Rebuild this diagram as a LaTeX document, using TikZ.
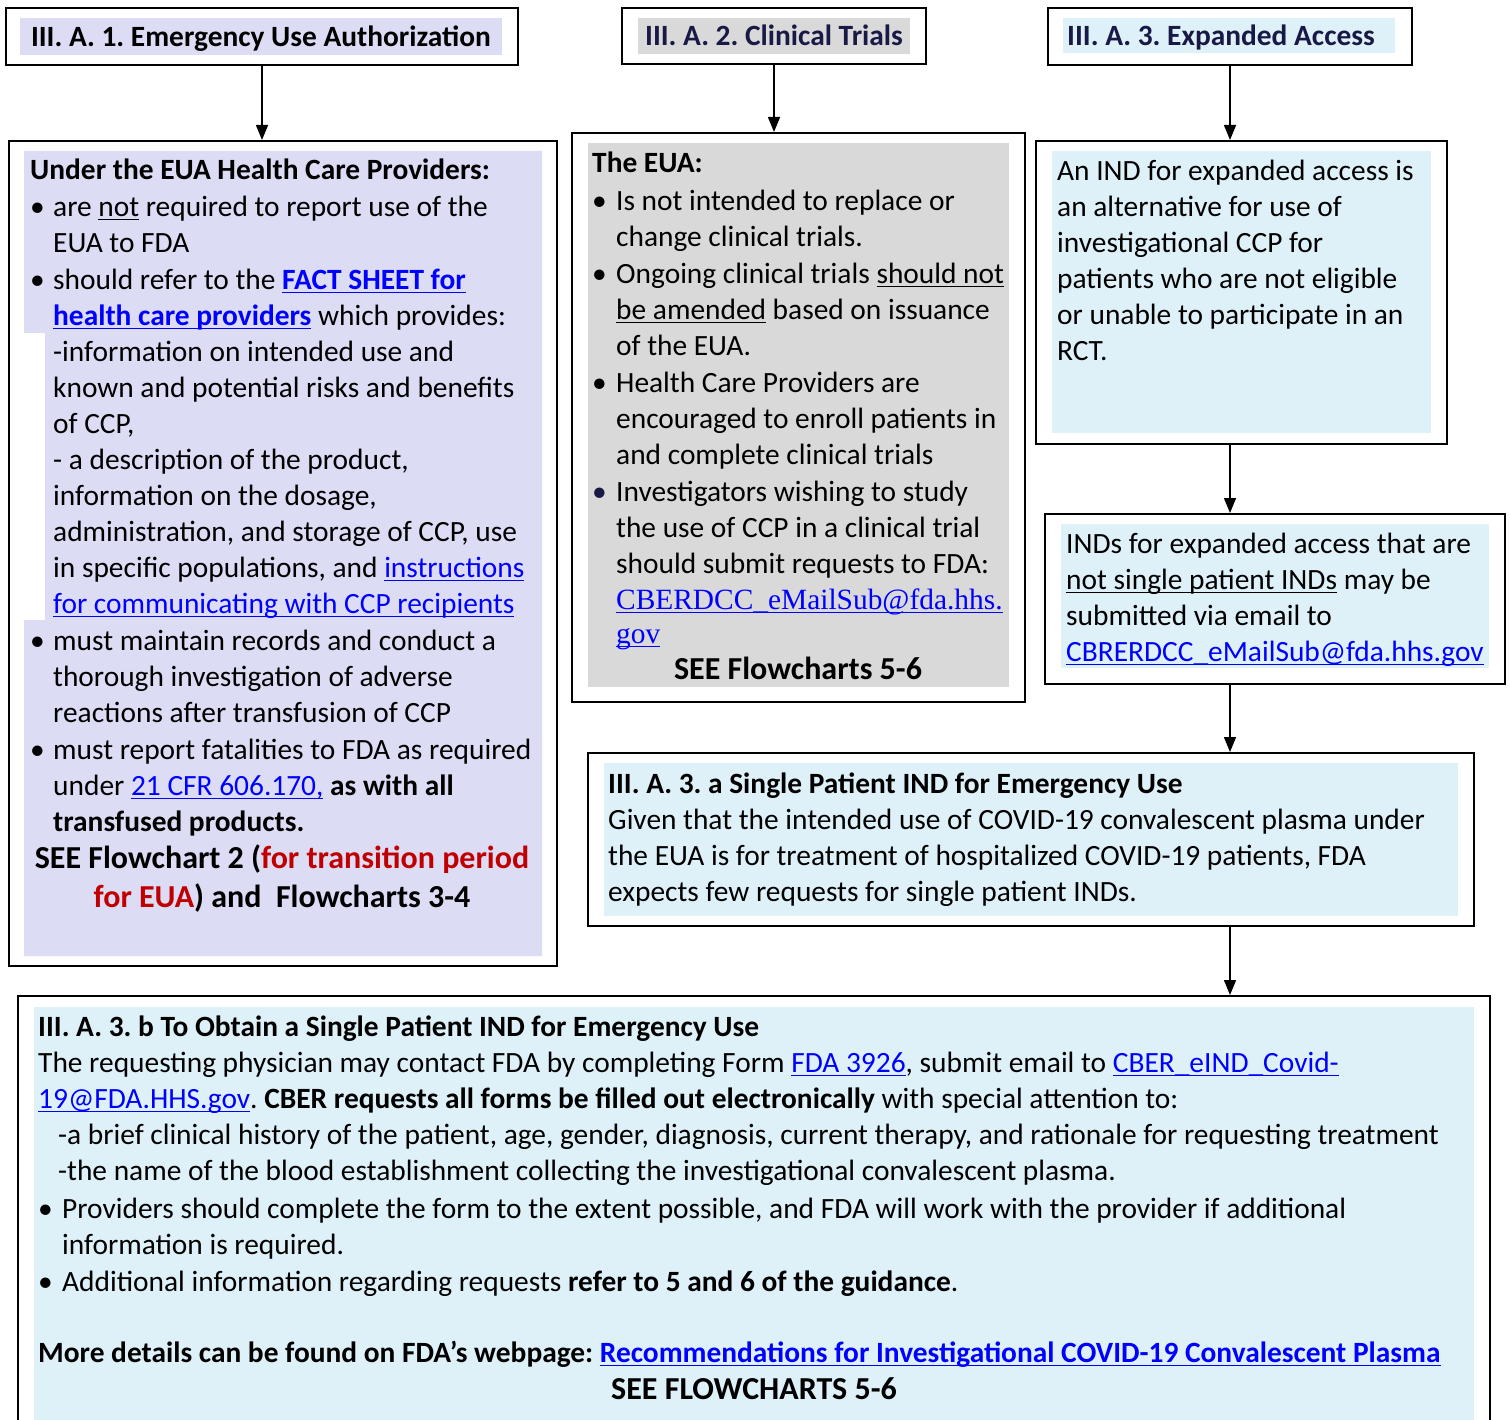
\documentclass[tikz,border=0pt]{standalone}
\usepackage{fontspec}
\setmainfont{Carlito}
\newfontfamily\serifmail{Liberation Serif}
\usetikzlibrary{
  arrows.meta,
  fit,
  positioning
}
\definecolor{eualav}{RGB}{220,220,245}
\definecolor{trialgray}{RGB}{217,217,217}
\definecolor{accessblue}{RGB}{222,241,249}
\definecolor{linkblue}{RGB}{0,0,255}
\definecolor{transred}{RGB}{192,0,0}
\definecolor{headnavy}{RGB}{25,25,70}
\newsavebox{\ulinebox}
\newcommand{\ulin}[1]{\sbox{\ulinebox}{#1}\rlap{\rule[-3.5pt]{\wd\ulinebox}{1.3pt}}\usebox{\ulinebox}}
\newcommand{\lnk}[1]{{\color{linkblue}\ulin{#1}}}
\newcommand{\bul}{\makebox[23pt][l]{\textbullet}}
\newcommand{\ind}{\hspace*{23pt}}
\frenchspacing
\tikzset{
  boxframe/.style={
    draw=black,
    line width=2pt,
    fill=white,
    inner sep=0pt
  },
  panel/.style={
    inner sep=0pt,
    draw=none
  },
  body/.style={
    anchor=north west,
    inner sep=0pt,
    align=left,
    font=\fontsize{29.4}{36}\selectfont
  },
  heading/.style={
    inner sep=0pt,
    font=\bfseries\fontsize{29.4}{34}\selectfont
  },
  titlebar/.style={
    heading,
    text height=23pt,
    text depth=3pt
  },
  seenote/.style={
    heading,
    font=\bfseries\fontsize{32}{39}\selectfont
  },
  arrow/.style={
    -{Triangle[length=15pt,width=12pt]},
    line width=1.5pt,
    draw=black
  }
}

\begin{document}
\frenchspacing
\begin{tikzpicture}[x=1pt, y=-1pt]
\useasboundingbox (0,0) rectangle (1510,1420);

% Section titles.
\node[boxframe, minimum width=512pt, minimum height=57pt] (euatitle) at (262,36.5) {};
\node[titlebar, fill=eualav, minimum width=482pt, minimum height=37pt] at (261,36.5)
  {III. A. 1. Emergency Use Authorization};
\node[boxframe, minimum width=304pt, minimum height=56pt] (trialtitle) at (774,36) {};
\node[titlebar, fill=trialgray, text=headnavy, minimum width=272pt, minimum height=36pt] at (774,36)
  {III. A. 2. Clinical Trials};
\node[boxframe, minimum width=364pt, minimum height=57pt] (accesstitle) at (1230,36.5) {};
\node[titlebar, fill=accessblue, text=headnavy, minimum width=332pt, minimum height=35pt] at (1229,35.5)
  {III. A. 3. Expanded Access\hspace*{16pt}};

% Content frames.
\node[boxframe, fit={(9,141) (557,966)}] (euabox) {};
\node[boxframe, fit={(572,133) (1025,702)}] (trialbox) {};
\node[boxframe, fit={(1036,141) (1447,444)}] (indbox) {};
\node[boxframe, fit={(1045,514) (1505,684)}] (indsbox) {};
\node[boxframe, fit={(588,753) (1474,926)}] (singlebox) {};
\node[boxframe, fit={(18,996) (1490,1424)}] (obtainbox) {};

% Coloured panels inside the frames.
\fill[eualav] (24,151) -- (542,151) -- (542,956) -- (24,956) -- (24,620)
  -- (45,620) -- (45,333) -- (24,333) -- cycle;
\node[panel, fill=trialgray, fit={(588,143) (1009,687)}] {};
\node[panel, fill=accessblue, fit={(1052,151) (1431,433)}] {};
\node[panel, fill=accessblue, fit={(1061,524) (1489,668)}] {};
\node[panel, fill=accessblue, fit={(604,763) (1458,916)}] {};
\node[panel, fill=accessblue, fit={(34,1007) (1474,1424)}] {};

% EUA text.
\node[body] (euatext) at (30,159) {%
  \textbf{Under the EUA Health Care Providers:}\\[1pt]
  \bul are \ulin{not} required to report use of the\\
  \ind EUA to FDA\\[1pt]
  \bul should refer to the \textbf{\lnk{FACT SHEET for}}\\
  \ind\textbf{\lnk{health care providers}} which provides:\\
  \ind -information on intended use and\\
  \ind known and potential risks and benefits\\
  \ind of CCP,\\
  \ind - a description of the product,\\
  \ind information on the dosage,\\
  \ind administration, and storage of CCP, use\\
  \ind in specific populations, and \lnk{instructions}\\
  \ind\lnk{for communicating with CCP recipients}\\[1pt]
  \bul must maintain records and conduct a\\
  \ind thorough investigation of adverse\\
  \ind reactions after transfusion of CCP\\[1pt]
  \bul must report fatalities to FDA as required\\
  \ind under \lnk{21 CFR 606.170,} \textbf{as with all}\\
  \ind\textbf{transfused products.}
};
\node[seenote, align=center] (euasee) at (282,879)
  {SEE Flowchart 2 (\textcolor{transred}{for transition period}\\
   \textcolor{transred}{for EUA}) and\ \ Flowcharts 3-4};

% Clinical trials text.
\node[body] (trialtext) at (592,152) {%
  \textbf{The EUA:}\\[2pt]
  \makebox[24pt][l]{\textbullet}Is not intended to replace or\\
  \hspace*{24pt}change clinical trials.\\[1pt]
  \makebox[24pt][l]{\textbullet}Ongoing clinical trials \ulin{should not}\\
  \hspace*{24pt}\ulin{be amended} based on issuance\\
  \hspace*{24pt}of the EUA.\\[1pt]
  \makebox[24pt][l]{\textbullet}Health Care Providers are\\
  \hspace*{24pt}encouraged to enroll patients in\\
  \hspace*{24pt}and complete clinical trials\\[1pt]
  \makebox[24pt][l]{\textcolor{headnavy}{\textbullet}}Investigators wishing to study\\
  \hspace*{24pt}the use of CCP in a clinical trial\\
  \hspace*{24pt}should submit requests to FDA:\\
  \hspace*{24pt}{\serifmail\lnk{CBERDCC\_eMailSub@fda.hhs.}}\\[-2pt]
  \hspace*{24pt}{\serifmail\lnk{gov}}
};
\node[seenote] (trialsee) at (798,668) {SEE Flowcharts 5-6};

% Expanded access text.
\node[body] (indtext) at (1057,160) {%
  An IND for expanded access is\\
  an alternative for use of\\
  investigational CCP for\\
  patients who are not eligible\\
  or unable to participate in an\\
  RCT.
};
\node[body] (indstext) at (1066,533) {%
  INDs for expanded access that are\\
  \ulin{not single patient INDs} may be\\
  submitted via email to\\
  \lnk{CBRERDCC\_eMailSub@fda.hhs.gov}
};

% Single patient IND.
\node[body] (singletext) at (608,773) {%
  \textbf{III. A. 3. a Single Patient IND for Emergency Use}\\
  Given that the intended use of COVID-19 convalescent plasma under\\
  the EUA is for treatment of hospitalized COVID-19 patients, FDA\\
  expects few requests for single patient INDs.
};
\node[body] (obtaintext) at (38,1016) {%
  \textbf{III. A. 3. b To Obtain a Single Patient IND for Emergency Use}\\
  The requesting physician may contact FDA by completing Form \lnk{FDA 3926}, submit email to \lnk{CBER\_eIND\_Covid-}\\
  \lnk{19@FDA.HHS.gov}. \textbf{CBER requests all forms be filled out electronically} with special attention to:\\
  \hspace*{20pt}-a brief clinical history of the patient, age, gender, diagnosis, current therapy, and rationale for requesting treatment\\
  \hspace*{20pt}-the name of the blood establishment collecting the investigational convalescent plasma.\\[2pt]
  \makebox[24pt][l]{\textbullet}Providers should complete the form to the extent possible, and FDA will work with the provider if additional\\
  \hspace*{24pt}information is required.\\[1pt]
  \makebox[24pt][l]{\textbullet}Additional information regarding requests \textbf{refer to 5 and 6 of the guidance}.\\[35pt]
  \textbf{More details can be found on FDA’s webpage: \lnk{Recommendations for Investigational COVID-19 Convalescent Plasma}}
};
\node[seenote] (obtainsee) at (754,1389) {SEE FLOWCHARTS 5-6};

% Connectors.
\draw[arrow] (euatitle.south) -- (euatitle.south |- euabox.north);
\draw[arrow] (trialtitle.south) -- (trialtitle.south |- trialbox.north);
\draw[arrow] (accesstitle.south) -- (accesstitle.south |- indbox.north);
\draw[arrow] (accesstitle.south |- indbox.south) -- (accesstitle.south |- indsbox.north);
\draw[arrow] (accesstitle.south |- indsbox.south) -- (accesstitle.south |- singlebox.north);
\draw[arrow] (accesstitle.south |- singlebox.south) -- (accesstitle.south |- obtainbox.north);

\end{tikzpicture}
\end{document}
